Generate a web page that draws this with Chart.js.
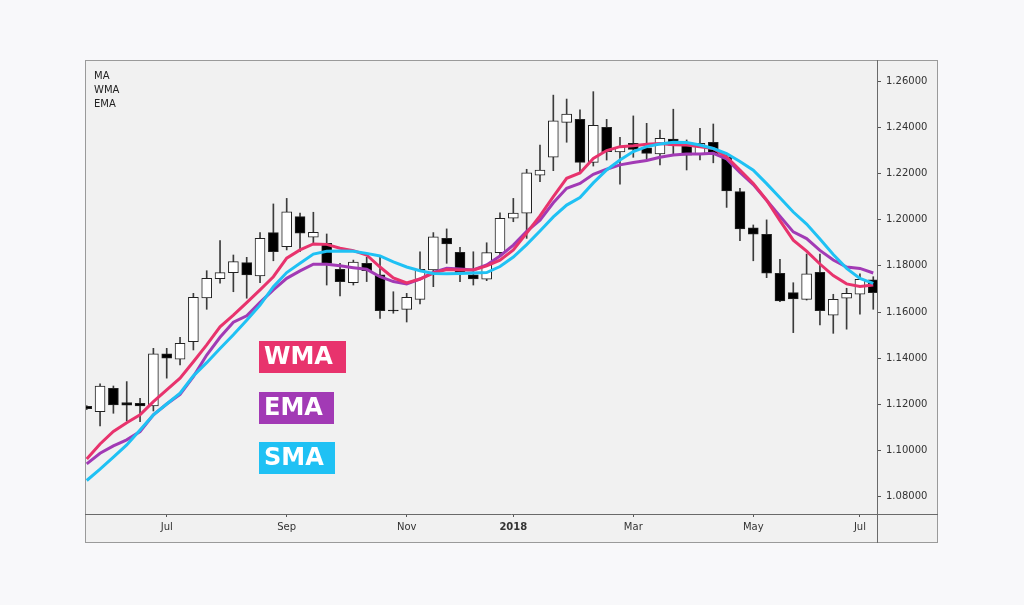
<!DOCTYPE html>
<html>
<head>
<meta charset="utf-8">
<title>MA / WMA / EMA</title>
<script src="https://cdn.jsdelivr.net/npm/chart.js@4.4.0/dist/chart.umd.min.js"></script>
<style>
  html, body { margin: 0; padding: 0; background: #f8f8fa; }
  #wrap { width: 1024px; height: 605px; }
</style>
</head>
<body>
<div id="wrap"><canvas id="grafico" width="1024" height="605"></canvas></div>
<script>
// Weekly candles (one per week, index 0..59)
const open = [1.1192, 1.1169, 1.1270, 1.1208, 1.1205, 1.1194, 1.1419, 1.1396, 1.1472, 1.1661,
  1.1745, 1.1771, 1.1814, 1.1756, 1.1944, 1.1883, 1.2013, 1.1924, 1.1898, 1.1785,
  1.1727, 1.1811, 1.1761, 1.1609, 1.1612, 1.1655, 1.1782, 1.1919, 1.1859, 1.1761,
  1.1742, 1.1857, 1.2006, 1.2028, 1.2193, 1.2270, 1.2421, 1.2434, 1.2248, 1.2400,
  1.2293, 1.2330, 1.2311, 1.2284, 1.2349, 1.2320, 1.2284, 1.2335, 1.2272, 1.2121,
  1.1965, 1.1937, 1.1768, 1.1684, 1.1655, 1.1772, 1.1587, 1.1660, 1.1677, 1.1739]
const high = [1.1195, 1.1289, 1.1280, 1.1299, 1.1227, 1.1443, 1.1443, 1.1491, 1.1681, 1.1779,
  1.1909, 1.1847, 1.1837, 1.1944, 1.2068, 1.2092, 1.2028, 1.2032, 1.1938, 1.1811,
  1.1825, 1.1837, 1.1840, 1.1688, 1.1681, 1.1861, 1.1944, 1.1960, 1.1880, 1.1861,
  1.1900, 1.2029, 1.2092, 1.2218, 1.2323, 1.2539, 1.2522, 1.2475, 1.2554, 1.2434,
  1.2356, 1.2449, 1.2417, 1.2388, 1.2478, 1.2345, 1.2395, 1.2414, 1.2287, 1.2136,
  1.1977, 1.1999, 1.1828, 1.1727, 1.1851, 1.1851, 1.1677, 1.1703, 1.1765, 1.1753]
const low = [1.1178, 1.1107, 1.1162, 1.1130, 1.1126, 1.1172, 1.1314, 1.1371, 1.1436, 1.1612,
  1.1725, 1.1688, 1.1660, 1.1727, 1.1822, 1.1869, 1.1861, 1.1895, 1.1717, 1.1670,
  1.1717, 1.1732, 1.1573, 1.1595, 1.1557, 1.1635, 1.1710, 1.1811, 1.1732, 1.1717,
  1.1736, 1.1840, 1.1991, 1.1919, 1.2164, 1.2212, 1.2335, 1.2208, 1.2232, 1.2258,
  1.2154, 1.2270, 1.2258, 1.2237, 1.2284, 1.2215, 1.2258, 1.2246, 1.2053, 1.1909,
  1.1822, 1.1749, 1.1645, 1.1511, 1.1652, 1.1544, 1.1508, 1.1526, 1.1591, 1.1612]
const close = [1.1182, 1.1280, 1.1198, 1.1197, 1.1194, 1.1419, 1.1400, 1.1465, 1.1664, 1.1746,
  1.1771, 1.1818, 1.1761, 1.1919, 1.1861, 1.2034, 1.1941, 1.1945, 1.1811, 1.1732,
  1.1816, 1.1779, 1.1606, 1.1605, 1.1664, 1.1785, 1.1926, 1.1895, 1.1768, 1.1743,
  1.1857, 1.2006, 1.2028, 1.2203, 1.2215, 1.2428, 1.2457, 1.2248, 1.2408, 1.2294,
  1.2313, 1.2304, 1.2287, 1.2352, 1.2322, 1.2279, 1.2330, 1.2284, 1.2124, 1.1960,
  1.1937, 1.1768, 1.1648, 1.1657, 1.1765, 1.1606, 1.1655, 1.1681, 1.1742, 1.1684]

// Moving averages
const wma = [1.0964, 1.1029, 1.1083, 1.1121, 1.1155, 1.1212, 1.1263, 1.1314, 1.1385, 1.1458,
  1.1536, 1.1587, 1.1641, 1.1696, 1.1753, 1.1833, 1.1869, 1.1895, 1.1893, 1.1876,
  1.1866, 1.1847, 1.1795, 1.1748, 1.1726, 1.1743, 1.1769, 1.1784, 1.1782, 1.1782,
  1.1800, 1.1825, 1.1869, 1.1942, 1.2016, 1.2100, 1.2179, 1.2202, 1.2265, 1.2299,
  1.2316, 1.2320, 1.2326, 1.2330, 1.2324, 1.2323, 1.2316, 1.2308, 1.2271, 1.2215,
  1.2157, 1.2084, 1.1996, 1.1911, 1.1864, 1.1808, 1.1758, 1.1722, 1.1711, 1.1717]
const ema = [1.0943, 1.0989, 1.1021, 1.1047, 1.1083, 1.1155, 1.1202, 1.1244, 1.1321, 1.1414,
  1.1491, 1.1556, 1.1584, 1.1642, 1.1696, 1.1746, 1.1778, 1.1807, 1.1807, 1.1800,
  1.1792, 1.1785, 1.1753, 1.1732, 1.1722, 1.1743, 1.1772, 1.1790, 1.1786, 1.1782,
  1.1804, 1.1843, 1.1890, 1.1949, 1.1998, 1.2073, 1.2136, 1.2157, 1.2196, 1.2218,
  1.2237, 1.2247, 1.2256, 1.2270, 1.2280, 1.2284, 1.2284, 1.2287, 1.2263, 1.2204,
  1.2152, 1.2084, 1.2015, 1.1947, 1.1918, 1.1867, 1.1825, 1.1795, 1.1789, 1.1769]
const sma = [1.0871, 1.0920, 1.0972, 1.1025, 1.1090, 1.1155, 1.1202, 1.1249, 1.1324, 1.1381,
  1.1442, 1.1502, 1.1565, 1.1630, 1.1710, 1.1771, 1.1811, 1.1851, 1.1863, 1.1864,
  1.1863, 1.1854, 1.1843, 1.1817, 1.1795, 1.1779, 1.1767, 1.1766, 1.1767, 1.1769,
  1.1771, 1.1797, 1.1838, 1.1892, 1.1951, 1.2012, 1.2063, 1.2096, 1.2159, 1.2215,
  1.2258, 1.2295, 1.2316, 1.2327, 1.2335, 1.2334, 1.2323, 1.2308, 1.2286, 1.2252,
  1.2214, 1.2156, 1.2095, 1.2033, 1.1981, 1.1916, 1.1849, 1.1789, 1.1746, 1.1724]

// Axis ticks
const monthWeeks = [6, 15, 24, 32, 41, 50, 58]
const monthLabels = ['Jul', 'Sep', 'Nov', '2018', 'Mar', 'May', 'Jul']
const priceTicks = [1.08, 1.10, 1.12, 1.14, 1.16, 1.18, 1.20, 1.22, 1.24, 1.26]

const colWMA = '#e8336d'
const colEMA = '#a23ab5'
const colSMA = '#1fc1f4'

const toPoints = arr => arr.map((v, i) => ({ x: i, y: v }))

// frame, separator lines, top-left text and the coloured labels
const marco = {
  id: 'marco',
  beforeDraw(chart) {
    const { ctx, chartArea } = chart
    const right = chart.scales.y.right
    const bottom = chart.scales.x.bottom
    ctx.save()
    ctx.fillStyle = '#f1f1f1'
    ctx.fillRect(chartArea.left, chartArea.top, right - chartArea.left, bottom - chartArea.top)
    ctx.restore()
  },
  afterDraw(chart) {
    const { ctx, chartArea } = chart
    const right = chart.scales.y.right
    const bottom = chart.scales.x.bottom
    ctx.save()
    ctx.strokeStyle = '#9a9a9a'
    ctx.lineWidth = 1
    ctx.strokeRect(chartArea.left + 0.5, chartArea.top + 0.5, right - chartArea.left - 1, bottom - chartArea.top - 1)
    ctx.strokeStyle = '#6a6a6a'
    ctx.beginPath()
    ctx.moveTo(chartArea.right + 0.5, chartArea.top)
    ctx.lineTo(chartArea.right + 0.5, bottom)
    ctx.moveTo(chartArea.left, chartArea.bottom + 0.5)
    ctx.lineTo(right, chartArea.bottom + 0.5)
    ctx.stroke()

    ctx.fillStyle = '#222'
    ctx.font = '10px "DejaVu Sans"'
    ctx.textBaseline = 'middle'
    ctx.fillText('MA', chartArea.left + 9, chartArea.top + 16)
    ctx.fillText('WMA', chartArea.left + 9, chartArea.top + 30)
    ctx.fillText('EMA', chartArea.left + 9, chartArea.top + 44)

    const etiquetas = [
      { text: 'WMA', color: colWMA, y: 341, w: 87 },
      { text: 'EMA', color: colEMA, y: 392, w: 75 },
      { text: 'SMA', color: colSMA, y: 442, w: 76 },
    ]
    ctx.font = 'bold 24px "DejaVu Sans"'
    etiquetas.forEach(e => {
      ctx.fillStyle = e.color
      ctx.fillRect(259, e.y, e.w, 32)
      ctx.fillStyle = '#ffffff'
      ctx.fillText(e.text, 264, e.y + 17)
    })
    ctx.restore()
  },
}

new Chart(document.getElementById('grafico'), {
  type: 'bar',
  data: {
    datasets: [
      {
        type: 'line',
        label: 'SMA',
        data: toPoints(sma),
        borderColor: colSMA,
        borderWidth: 3,
        pointRadius: 0,
        tension: 0,
        order: 0,
      },
      {
        type: 'line',
        label: 'WMA',
        data: toPoints(wma),
        borderColor: colWMA,
        borderWidth: 3,
        pointRadius: 0,
        tension: 0,
        order: 1,
      },
      {
        type: 'line',
        label: 'EMA',
        data: toPoints(ema),
        borderColor: colEMA,
        borderWidth: 3,
        pointRadius: 0,
        tension: 0,
        order: 2,
      },
      {
        label: 'body',
        data: open.map((o, i) => ({ x: i, y: [o, close[i]] })),
        backgroundColor: ctx => (close[ctx.dataIndex] >= open[ctx.dataIndex] ? '#ffffff' : '#000000'),
        borderColor: '#222',
        borderWidth: 1,
        borderSkipped: false,
        barThickness: 10,
        grouped: false,
        order: 3,
      },
      {
        label: 'wick',
        data: low.map((l, i) => ({ x: i, y: [l, high[i]] })),
        backgroundColor: '#3c3c3c',
        barThickness: 1,
        grouped: false,
        order: 4,
      },
    ],
  },
  options: {
    responsive: false,
    animation: false,
    layout: { padding: { left: 85, top: 60, right: 86, bottom: 62 } },
    plugins: {
      legend: { display: false },
      tooltip: { enabled: false },
    },
    scales: {
      x: {
        type: 'linear',
        min: -0.13,
        max: 59.28,
        offset: false,
        afterBuildTicks: s => { s.ticks = monthWeeks.map(v => ({ value: v })) },
        afterFit: s => { s.height = 29 },
        grid: { offset: false, drawOnChartArea: false, drawTicks: true, tickLength: 3, color: '#555' },
        border: { display: false },
        ticks: {
          autoSkip: false,
          maxRotation: 0,
          padding: 4,
          color: '#333',
          font: c => ({ family: 'DejaVu Sans', size: 10, weight: c.tick && c.tick.label === '2018' ? 'bold' : 'normal' }),
          callback: v => monthLabels[monthWeeks.indexOf(v)],
        },
      },
      y: {
        type: 'linear',
        position: 'right',
        min: 1.0726,
        max: 1.2691,
        afterBuildTicks: s => { s.ticks = priceTicks.map(v => ({ value: v })) },
        afterFit: s => { s.width = 61 },
        grid: { drawOnChartArea: false, drawTicks: true, tickLength: 4, color: '#555' },
        border: { display: false },
        ticks: {
          padding: 5,
          color: '#333',
          font: { family: 'DejaVu Sans', size: 10 },
          callback: v => v.toFixed(5),
        },
      },
    },
  },
  plugins: [marco],
})
</script>
</body>
</html>
